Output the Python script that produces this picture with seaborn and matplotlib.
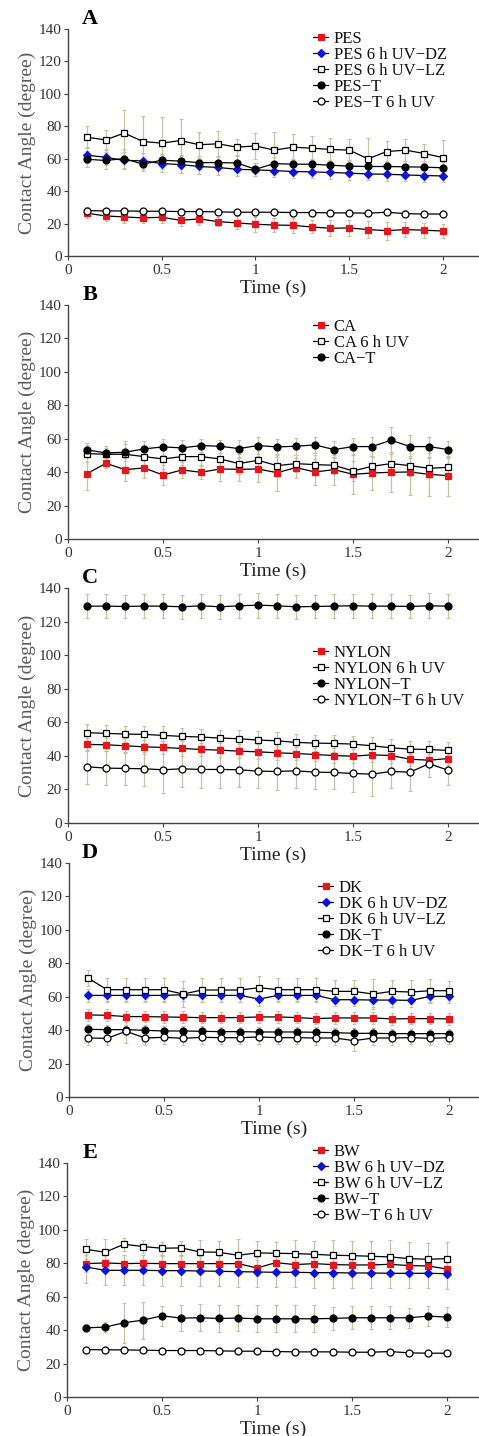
import numpy as np
import pandas as pd
import seaborn as sns
import matplotlib
matplotlib.use("Agg")
import matplotlib.pyplot as plt

sns.set_style("ticks")
plt.rcParams['font.family'] = ['Liberation Serif', 'DejaVu Serif']
plt.rcParams['mathtext.fontset'] = 'stix'

# ---------------- data ----------------
t = [0.1, 0.2, 0.3, 0.4, 0.5, 0.6, 0.7, 0.8, 0.9, 1.0,
     1.1, 1.2, 1.3, 1.4, 1.5, 1.6, 1.7, 1.8, 1.9, 2.0]

# Panel A
pes = [26.4, 24.7, 24.1, 23.5, 23.9, 22.0, 22.9, 21.2, 20.4, 19.6, 19.1, 18.9, 17.9, 17.1, 17.3, 16.3, 15.6, 16.3, 15.9, 15.4]
pes_err = [3.0, 3.0, 3.5, 3.0, 3.5, 3.5, 3.5, 3.0, 4.0, 4.5, 4.5, 4.5, 4.0, 5.0, 5.0, 5.0, 5.5, 4.5, 4.5, 4.5]
pes_dz = [62.2, 60.9, 58.9, 58.7, 57.0, 56.4, 55.2, 54.6, 53.5, 53.1, 52.7, 52.1, 51.9, 51.5, 51.1, 50.6, 50.4, 50.0, 49.6, 49.4]
pes_dz_err = [5.0, 5.0, 5.0, 5.0, 5.0, 5.0, 4.5, 4.5, 4.0, 4.0, 4.0, 4.0, 4.0, 4.0, 4.0, 4.0, 4.0, 4.0, 4.0, 4.0]
pes_lz = [73.3, 71.6, 75.8, 70.6, 69.6, 71.2, 68.6, 69.2, 67.1, 67.9, 65.3, 67.1, 66.5, 65.7, 65.3, 59.9, 64.4, 65.3, 63.2, 60.7]
pes_lz_err = [7.0, 6.0, 14.0, 16.0, 16.0, 13.0, 8.0, 8.0, 5.0, 8.0, 11.0, 8.0, 7.5, 7.0, 7.0, 13.0, 6.5, 7.0, 6.0, 11.0]
pes_t = [59.7, 58.9, 60.1, 56.6, 59.1, 58.5, 57.6, 57.6, 57.4, 53.5, 57.0, 56.6, 56.6, 56.0, 55.4, 55.2, 55.2, 55.0, 54.8, 54.4]
pes_t_err = [5.0, 5.0, 6.0, 4.0, 4.0, 4.0, 4.0, 4.0, 4.0, 4.0, 4.0, 3.5, 3.5, 3.5, 3.5, 3.5, 3.5, 3.5, 3.5, 3.5]
pes_t6 = [28.0, 27.8, 27.8, 27.6, 27.6, 27.4, 27.4, 27.2, 27.0, 27.0, 27.0, 26.8, 26.8, 26.6, 26.6, 26.4, 27.0, 26.1, 25.9, 25.9]
pes_t6_err = [2.0, 2.0, 2.0, 2.0, 2.0, 2.0, 2.0, 2.0, 2.0, 2.0, 2.0, 2.0, 2.0, 2.0, 2.0, 2.0, 2.0, 2.0, 2.0, 2.0]

# Panel B
ca = [39.1, 45.3, 41.5, 42.5, 38.3, 41.3, 39.9, 41.9, 41.7, 41.9, 39.7, 42.7, 40.1, 41.5, 38.7, 39.5, 39.9, 40.1, 38.7, 37.9]
ca_err = [10.0, 3.0, 7.0, 6.0, 6.0, 5.0, 4.0, 7.0, 7.0, 8.0, 11.0, 6.0, 8.0, 9.0, 12.0, 10.0, 12.0, 14.0, 13.0, 12.0]
ca_uv = [51.1, 50.7, 50.7, 49.3, 47.9, 49.3, 49.3, 47.9, 45.1, 47.1, 43.9, 45.1, 44.5, 44.1, 40.7, 43.5, 45.1, 43.9, 42.3, 42.9]
ca_uv_err = [5.0, 4.0, 8.0, 6.0, 6.0, 5.0, 5.0, 6.0, 6.0, 6.0, 5.0, 5.0, 6.0, 5.0, 6.0, 6.0, 7.0, 6.0, 6.0, 6.0]
ca_t = [53.3, 51.5, 51.9, 53.9, 55.1, 54.5, 55.9, 55.5, 54.1, 55.9, 55.1, 55.5, 56.3, 53.5, 55.3, 55.3, 59.1, 55.3, 55.3, 53.5]
ca_t_err = [4.0, 4.0, 5.0, 5.0, 5.0, 5.0, 4.0, 4.0, 5.0, 5.0, 5.0, 5.0, 5.0, 5.0, 5.0, 6.0, 8.0, 7.0, 6.0, 5.0]

# Panel C
ny = [46.8, 46.6, 46.0, 45.4, 45.0, 44.4, 43.8, 43.4, 42.8, 42.4, 41.8, 41.4, 40.8, 40.2, 39.8, 40.6, 40.2, 38.0, 37.4, 38.4]
ny_err = [4.0, 4.0, 4.5, 4.0, 4.0, 4.5, 4.0, 4.0, 4.0, 4.5, 4.0, 4.0, 4.0, 4.5, 4.0, 4.0, 4.5, 4.0, 4.0, 4.0]
ny_uv = [53.8, 53.4, 53.0, 52.8, 52.2, 51.6, 51.2, 50.6, 50.2, 49.4, 49.0, 48.0, 47.6, 47.4, 47.0, 46.0, 44.8, 44.0, 43.8, 43.2]
ny_uv_err = [5.0, 5.0, 5.0, 5.0, 5.5, 5.0, 5.0, 5.0, 5.0, 5.5, 5.0, 5.0, 5.0, 5.0, 5.0, 5.0, 5.0, 5.0, 5.0, 5.0]
ny_t = [129.2, 129.2, 129.0, 129.2, 129.2, 128.8, 129.4, 128.8, 129.4, 129.8, 129.4, 128.8, 129.0, 129.2, 129.4, 129.2, 129.2, 129.0, 129.4, 129.2]
ny_t_err = [7.0, 7.0, 7.0, 7.0, 7.0, 7.0, 7.0, 7.0, 7.0, 7.5, 7.0, 7.0, 7.0, 7.0, 7.0, 7.0, 7.0, 7.0, 7.5, 7.0]
ny_t6 = [33.5, 32.7, 32.5, 32.3, 31.7, 32.3, 31.9, 31.9, 31.7, 30.9, 30.7, 31.1, 30.3, 30.1, 29.5, 29.1, 30.7, 30.3, 35.3, 31.5]
ny_t6_err = [10.0, 10.0, 10.0, 10.0, 14.0, 11.0, 11.0, 11.0, 10.0, 10.0, 11.0, 10.0, 10.0, 10.0, 11.0, 13.0, 10.0, 11.0, 8.0, 9.0]

# Panel D
dk = [49.1, 48.9, 48.1, 48.1, 47.9, 47.7, 47.5, 47.5, 47.5, 47.9, 47.9, 47.5, 46.9, 47.3, 47.3, 47.3, 46.7, 46.9, 46.9, 46.7]
dk_err = [3.5, 3.5, 3.5, 3.5, 3.5, 3.5, 3.5, 3.5, 3.5, 3.5, 3.5, 3.5, 3.5, 3.5, 3.5, 3.5, 3.5, 3.5, 3.5, 3.5]
dk_dz = [60.8, 60.8, 60.8, 60.8, 60.8, 61.2, 60.8, 60.8, 60.8, 58.6, 60.8, 60.8, 60.8, 58.2, 58.2, 58.0, 58.0, 57.8, 60.2, 60.2]
dk_dz_err = [4.0, 4.0, 4.0, 4.0, 4.0, 4.0, 4.0, 4.0, 4.0, 4.0, 4.0, 4.0, 4.0, 4.0, 4.0, 4.0, 4.0, 4.0, 4.0, 4.0]
dk_lz = [71.2, 64.2, 64.2, 64.2, 64.2, 61.6, 64.0, 64.0, 64.0, 65.4, 64.2, 64.2, 64.2, 63.2, 63.2, 61.6, 63.2, 62.8, 63.6, 63.6]
dk_lz_err = [5.0, 7.0, 7.0, 7.0, 7.0, 8.0, 7.0, 7.0, 7.0, 7.0, 7.0, 7.0, 7.0, 7.0, 7.0, 9.0, 7.0, 7.0, 7.0, 6.0]
dk_t = [40.5, 40.3, 40.3, 39.9, 39.5, 39.5, 39.3, 39.1, 39.1, 38.9, 38.9, 38.9, 38.7, 38.5, 38.1, 38.1, 37.9, 37.9, 37.9, 37.9]
dk_t_err = [3.0, 3.0, 3.0, 3.0, 3.0, 3.0, 3.0, 3.0, 3.0, 3.0, 3.0, 3.0, 3.0, 3.0, 3.0, 3.0, 3.0, 3.0, 3.0, 3.0]
dk_t6 = [35.3, 35.1, 39.3, 35.3, 35.7, 35.1, 35.7, 35.5, 35.5, 35.9, 35.5, 35.5, 35.3, 35.3, 33.7, 35.3, 35.3, 35.5, 35.1, 35.5]
dk_t6_err = [4.0, 4.0, 7.0, 4.0, 4.0, 4.0, 4.0, 4.0, 4.0, 4.0, 4.0, 4.0, 4.0, 4.0, 6.0, 4.0, 4.0, 4.0, 4.0, 4.0]

# Panel E
bw = [79.8, 80.2, 79.8, 80.0, 79.8, 79.8, 79.8, 79.8, 79.8, 77.2, 80.4, 79.2, 79.8, 79.2, 79.0, 79.0, 79.4, 78.6, 78.4, 76.6]
bw_err = [5.0, 5.0, 5.0, 5.0, 5.0, 5.0, 5.0, 5.0, 5.0, 5.0, 5.0, 5.0, 5.0, 5.0, 5.0, 5.0, 5.0, 5.0, 5.0, 5.0]
bw_dz = [77.8, 75.8, 75.8, 75.8, 75.6, 75.6, 75.4, 75.2, 75.0, 74.8, 74.6, 74.6, 74.4, 74.4, 74.2, 74.2, 74.0, 74.0, 74.0, 73.8]
bw_dz_err = [9.5, 9.0, 9.0, 9.0, 9.0, 9.0, 9.0, 9.0, 9.0, 9.0, 9.0, 9.0, 9.0, 9.0, 9.0, 9.0, 9.0, 9.0, 9.0, 9.0]
bw_lz = [88.4, 86.6, 91.4, 90.0, 89.0, 89.2, 86.8, 86.6, 84.8, 86.2, 86.0, 85.8, 85.4, 84.8, 84.6, 84.2, 83.8, 82.8, 82.4, 82.8]
bw_lz_err = [6.0, 8.0, 4.0, 4.0, 4.0, 4.0, 7.0, 7.0, 10.0, 7.0, 7.0, 8.0, 8.0, 9.0, 9.0, 9.0, 10.0, 10.0, 10.0, 10.0]
bw_t = [41.4, 41.8, 44.4, 46.0, 48.6, 47.2, 47.4, 47.0, 47.2, 46.8, 46.8, 46.8, 46.8, 47.0, 47.4, 47.4, 47.4, 47.4, 48.4, 47.8]
bw_t_err = [2.0, 3.0, 12.0, 11.0, 6.0, 8.0, 8.0, 8.0, 8.0, 8.0, 8.0, 8.0, 8.0, 7.0, 7.0, 7.0, 7.0, 6.0, 6.0, 6.0]
bw_t6 = [28.4, 28.2, 28.2, 28.0, 27.8, 27.8, 27.8, 27.6, 27.4, 27.4, 27.2, 27.0, 27.0, 27.0, 26.8, 26.8, 27.2, 26.4, 26.2, 26.2]
bw_t6_err = [1.5, 1.5, 1.5, 1.5, 1.5, 1.5, 1.5, 1.5, 1.5, 1.5, 1.5, 1.5, 1.5, 1.5, 1.5, 1.5, 1.5, 1.5, 1.5, 1.5]

y_ticks = [0, 20, 40, 60, 80, 100, 120, 140]
x_ticks = [0, 0.5, 1, 1.5, 2]
x_ticklabels = ["0", "0.5", "1", "1.5", "2"]

# ---------------- styles ----------------
RED = "#e8161b"
BLUE = "#0a14d6"
ERR = "#c9c0a0"
STY = {
    "red_sq": dict(marker="s", mfc=RED, mec=RED, ms=4.8),
    "blue_di": dict(marker="D", mfc=BLUE, mec=BLUE, ms=4.5),
    "open_sq": dict(marker="s", mfc="white", mec="black", ms=5.0),
    "black_ci": dict(marker="o", mfc="black", mec="black", ms=5.0),
    "open_ci": dict(marker="o", mfc="white", mec="black", ms=5.0),
}

panels = [
    dict(letter="A", top=29, bottom=256, left=68, x2=443,
         legend=(313, 31),
         series=[("PES", pes, pes_err, "red_sq"),
                 ("PES 6 h UV\u2212DZ", pes_dz, pes_dz_err, "blue_di"),
                 ("PES 6 h UV\u2212LZ", pes_lz, pes_lz_err, "open_sq"),
                 ("PES\u2212T", pes_t, pes_t_err, "black_ci"),
                 ("PES\u2212T 6 h UV", pes_t6, pes_t6_err, "open_ci")]),
    dict(letter="B", top=305, bottom=539, left=68, x2=448,
         legend=(313, 319),
         series=[("CA", ca, ca_err, "red_sq"),
                 ("CA 6 h UV", ca_uv, ca_uv_err, "open_sq"),
                 ("CA\u2212T", ca_t, ca_t_err, "black_ci")]),
    dict(letter="C", top=588, bottom=823, left=68, x2=448,
         legend=(313, 645),
         series=[("NYLON", ny, ny_err, "red_sq"),
                 ("NYLON 6 h UV", ny_uv, ny_uv_err, "open_sq"),
                 ("NYLON\u2212T", ny_t, ny_t_err, "black_ci"),
                 ("NYLON\u2212T 6 h UV", ny_t6, ny_t6_err, "open_ci")]),
    dict(letter="D", top=863, bottom=1097, left=69, x2=449,
         legend=(318, 880),
         series=[("DK", dk, dk_err, "red_sq"),
                 ("DK 6 h UV\u2212DZ", dk_dz, dk_dz_err, "blue_di"),
                 ("DK 6 h UV\u2212LZ", dk_lz, dk_lz_err, "open_sq"),
                 ("DK\u2212T", dk_t, dk_t_err, "black_ci"),
                 ("DK\u2212T 6 h UV", dk_t6, dk_t6_err, "open_ci")]),
    dict(letter="E", top=1163, bottom=1397, left=67, x2=447,
         legend=(313, 1144),
         series=[("BW", bw, bw_err, "red_sq"),
                 ("BW 6 h UV\u2212DZ", bw_dz, bw_dz_err, "blue_di"),
                 ("BW 6 h UV\u2212LZ", bw_lz, bw_lz_err, "open_sq"),
                 ("BW\u2212T", bw_t, bw_t_err, "black_ci"),
                 ("BW\u2212T 6 h UV", bw_t6, bw_t6_err, "open_ci")]),
]

W, H = 479, 1436
fig = plt.figure(figsize=(W / 100, H / 100), dpi=100)

for p in panels:
    left = p["left"]
    width = W - left
    ax = fig.add_axes([left / W, 1 - p["bottom"] / H, width / W, (p["bottom"] - p["top"]) / H])
    xmax = 2.0 * width / (p["x2"] - left)
    for name, vals, err, sty in p["series"]:
        ax.errorbar(t, vals, yerr=err, fmt="none", ecolor=ERR, elinewidth=0.9,
                    capsize=1.5, capthick=0.8, zorder=1)
    for name, vals, err, sty in p["series"]:
        df = pd.DataFrame({"t": t, "v": vals})
        s = STY[sty]
        sns.lineplot(data=df, x="t", y="v", ax=ax, color="black", lw=0.9,
                     marker=s["marker"], markerfacecolor=s["mfc"],
                     markeredgecolor=s["mec"], markersize=s["ms"],
                     markeredgewidth=0.9, label=name, zorder=3)
    ax.set_xlim(0, xmax)
    ax.set_ylim(0, 140)
    ax.set_yticks(y_ticks)
    ax.set_xticks(x_ticks)
    ax.set_xticklabels(x_ticklabels)
    sns.despine(ax=ax)
    for sp in ("left", "bottom"):
        ax.spines[sp].set_color("#444444")
        ax.spines[sp].set_linewidth(1.0)
    ax.tick_params(axis="y", direction="out", length=3, width=0.8,
                   color="#444444", labelsize=11, labelcolor="#333333", pad=1.5)
    ax.tick_params(axis="x", direction="out", length=3, width=0.8,
                   color="#444444", labelsize=11, labelcolor="#333333", pad=3)
    ax.set_xlabel("Time (s)", fontsize=14, color="#222222", labelpad=1.5)
    ax.set_ylabel("Contact Angle (degree)", fontsize=14, color="#5a5a5a", labelpad=2)
    lx, ly = p["legend"]
    leg = ax.legend(loc="upper left", bbox_to_anchor=(lx / W, 1 - ly / H),
                    bbox_transform=fig.transFigure, frameon=False,
                    fontsize=12, handlelength=0.9, handletextpad=0.35,
                    labelspacing=0.0, borderpad=0, borderaxespad=0)
    for txt in leg.get_texts():
        txt.set_color("#111111")
    fig.text(90 / W, 1 - (p["top"] - 10) / H, p["letter"], fontsize=16,
             fontweight="bold", ha="center", va="center", color="black")

fig.savefig("out.png", dpi=100)
